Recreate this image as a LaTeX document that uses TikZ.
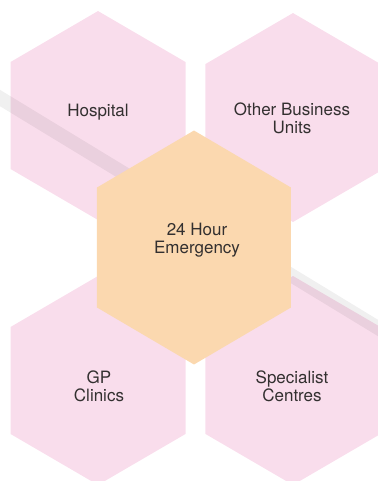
\documentclass[tikz,border=0pt]{standalone}
\usepackage{fontspec}
\setmainfont{TeX Gyre Heros}

\definecolor{hexpink}{HTML}{F9DDEC}
\definecolor{hexorange}{HTML}{FBD8AF}
\definecolor{labelgrey}{HTML}{333030}

\tikzset{
    pinkhex/.style={fill=hexpink},
    orangehex/.style={fill=hexorange},
    band/.style={draw=black, line width=0.37cm, opacity=0.06},
    label/.style={text=labelgrey, align=center, font=\fontsize{12.8}{13.8}\selectfont}
}

\begin{document}
\begin{tikzpicture}

    %% Service hexagons

    % Page frame
    \clip (0,0) rectangle (10,12.725);

    % Outer hexagons
    \foreach \cx/\cy in {2.593/9.669, 7.751/9.616, 2.593/2.659, 7.751/2.659}
        \fill[pinkhex] (\cx,\cy) ++(0,2.764) -- ++(2.315,-1.349) -- ++(0,-2.83)
            -- ++(-2.315,-1.349) -- ++(-2.315,1.349) -- ++(0,2.83) -- cycle;

    % Diagonal band
    \coordinate (bandstart) at (-0.5,10.436);
    \coordinate (bandend) at (10.5,3.744);
    \draw[band] (bandstart) -- (bandend);

    % Centre hexagon
    \fill[orangehex] (5.132,6.177) ++(0,3.095) -- ++(2.566,-1.508) -- ++(0,-3.174)
        -- ++(-2.566,-1.508) -- ++(-2.566,1.508) -- ++(0,3.174) -- cycle;

    % Labels
    \node[label] (hospital) at (2.593,9.762) {Hospital};
    \node[label] (business) at (7.725,9.603) {Other Business\\Units};
    \node[label] (emergency) at (5.212,6.376) {24 Hour\\Emergency};
    \node[label] (gp) at (2.619,2.513) {GP\\Clinics};
    \node[label] (specialist) at (7.725,2.513) {Specialist\\Centres};

\end{tikzpicture}
\end{document}
